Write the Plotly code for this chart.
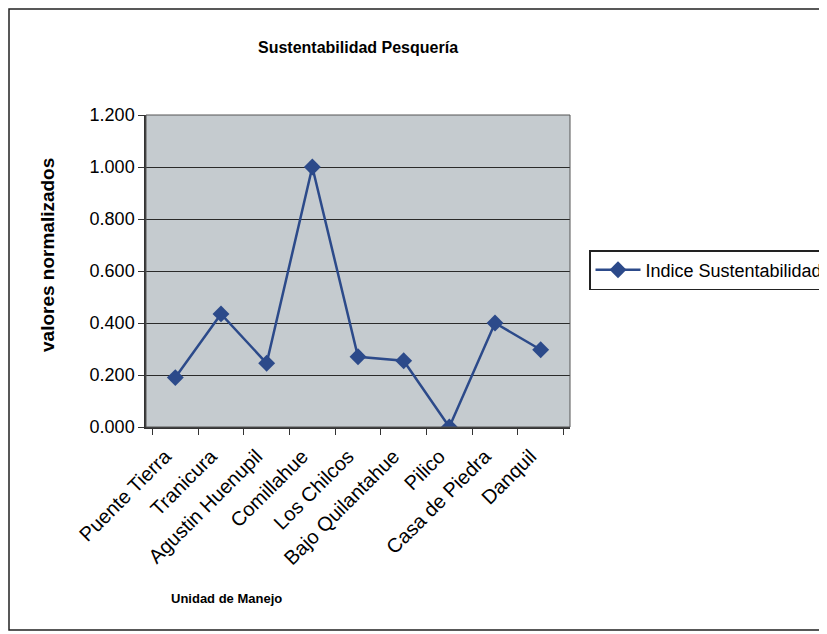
import plotly.graph_objects as go

categories = ["Puente Tierra", "Tranicura", "Agustin Huenupil", "Comillahue", "Los Chilcos",
              "Bajo Quilantahue", "Pilico", "Casa de Piedra", "Danquil"]
indice = [0.19, 0.435, 0.245, 1.0, 0.27, 0.255, 0.0, 0.40, 0.297]
y_ticks = [0.0, 0.2, 0.4, 0.6, 0.8, 1.0, 1.2]

W, H = 827, 634
OFF = 8  # page body margin shifts the figure
L, R, T, B = 146, 570, 115, 427  # plot area in reference pixels
FONT = "Liberation Sans, Arial, sans-serif"


def px(x):
    return (x - L) / (R - L)


def py(y):
    return (B - y) / (B - T)


fig = go.Figure()
fig.add_trace(
    go.Scatter(
        x=categories,
        y=indice,
        mode="lines+markers",
        name="Indice Sustentabilidad",
        line=dict(color="#2c4a8a", width=2.5),
        marker=dict(symbol="diamond", size=13, color="#2c4a8a"),
    )
)

fig.update_layout(
    width=W,
    height=H,
    margin=dict(l=L - OFF, r=W - R + OFF, t=T - OFF, b=H - B + OFF, autoexpand=False),
    paper_bgcolor="white",
    plot_bgcolor="#c5cbcf",
    font=dict(family=FONT, color="black"),
    title=dict(
        text="<b>Sustentabilidad Pesquería</b>",
        x=0.5,
        xref="paper",
        xanchor="center",
        y=1 - (47 - OFF) / H,
        yanchor="middle",
        font=dict(size=16),
    ),
    xaxis=dict(
        type="category",
        tickangle=-45,
        tickson="boundaries",
        ticks="outside",
        ticklen=6,
        tickcolor="#333",
        tickfont=dict(size=20),
        ticklabelstandoff=8,
        ticklabelshift=-10,
        showgrid=False,
        showline=True,
        linecolor="#333",
        linewidth=1.5,
    ),
    yaxis=dict(
        range=[0, 1.2],
        tickvals=y_ticks,
        tickformat=".3f",
        ticks="outside",
        ticklen=6,
        tickcolor="#333",
        tickfont=dict(size=18),
        showgrid=True,
        gridcolor="#2a2a2a",
        gridwidth=1,
        zeroline=False,
        showline=True,
        linecolor="#333",
        linewidth=1.5,
    ),
    legend=dict(
        x=px(589),
        y=py(270),
        xanchor="left",
        yanchor="middle",
        bgcolor="white",
        bordercolor="#222",
        borderwidth=1.5,
        itemwidth=45,
        font=dict(size=18),
    ),
    showlegend=True,
    annotations=[
        dict(
            text="<b>valores normalizados</b>",
            textangle=-90,
            xref="paper",
            yref="paper",
            x=px(47),
            y=py(255),
            xanchor="center",
            yanchor="middle",
            showarrow=False,
            font=dict(size=19),
        ),
        dict(
            text="<b>Unidad de Manejo</b>",
            xref="paper",
            yref="paper",
            x=px(226),
            y=py(598),
            xanchor="center",
            yanchor="middle",
            showarrow=False,
            font=dict(size=13),
        ),
    ],
    shapes=[
        dict(
            type="rect",
            xref="paper",
            yref="paper",
            x0=px(9),
            x1=px(840),
            y0=py(630),
            y1=py(9),
            line=dict(color="#222", width=1.5),
            fillcolor="rgba(0,0,0,0)",
            layer="below",
        ),
        dict(
            type="rect",
            xref="paper",
            yref="paper",
            x0=0,
            x1=1,
            y0=0,
            y1=1,
            line=dict(color="#555", width=1),
            fillcolor="rgba(0,0,0,0)",
        ),
    ],
)

fig.write_html("out.html")
